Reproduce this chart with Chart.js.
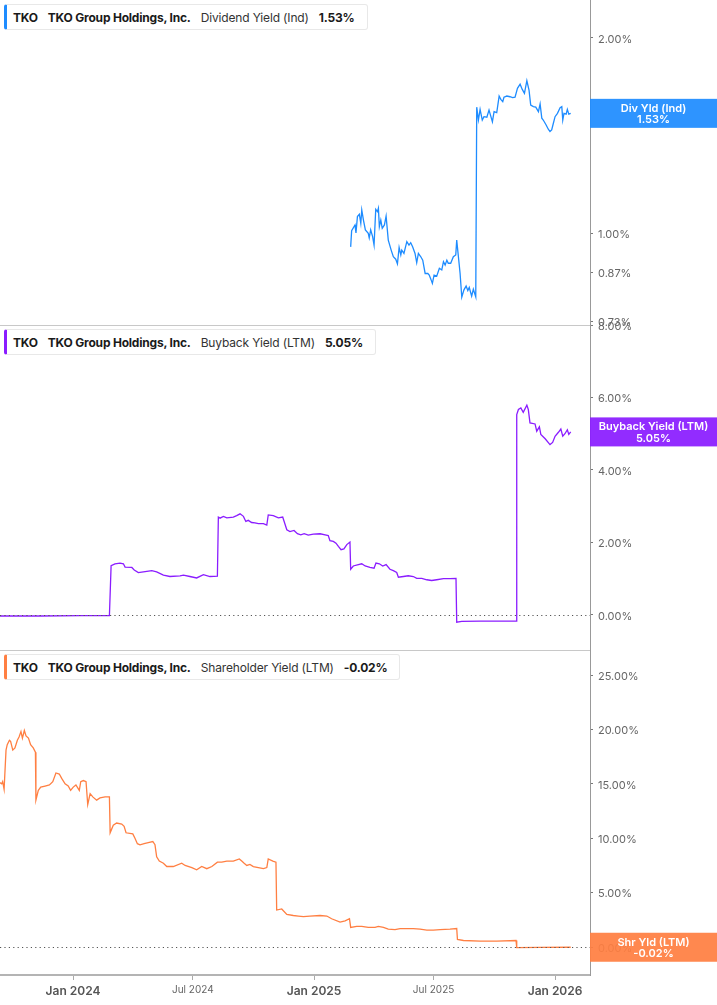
<!DOCTYPE html>
<html>
<head>
<meta charset="utf-8">
<script src="https://cdn.jsdelivr.net/npm/chart.js@4.4.1/dist/chart.umd.min.js"></script>
<style>
  html,body{margin:0;padding:0;background:#fff;}
  #wrap{position:relative;width:717px;height:1005px;overflow:hidden;font-family:Inter,"Noto Sans",sans-serif;}
  canvas{position:absolute;left:0;}
  .lg{position:absolute;left:4px;height:26px;box-sizing:border-box;background:#fff;border:1px solid #e8e8e8;border-left:3px solid #000;border-radius:3px;display:flex;align-items:center;padding:0 12px 0 6px;font-size:12px;color:#222;white-space:nowrap;z-index:5;}
  .lg span{margin-right:10px;}
  .lg span:last-child{margin-right:0;}
  .lg .b{font-weight:700;color:#1a1a1a;letter-spacing:-0.2px;}
  .lg .n{font-weight:400;color:#333;letter-spacing:-0.15px;}
</style>
</head>
<body>
<div id="wrap">
  <canvas id="c1" width="717" height="350" style="top:-15px;width:717px;height:350px"></canvas>
  <canvas id="c2" width="717" height="350" style="top:310px;width:717px;height:350px"></canvas>
  <canvas id="c3" width="717" height="370" style="top:635px;width:717px;height:370px"></canvas>
</div>
<script>
// ---------- DATA (time as decimal year) ----------
const ticker = "TKO";
const company = "TKO Group Holdings, Inc.";
const seriesNames = ["Dividend Yield (Ind)", "Buyback Yield (LTM)", "Shareholder Yield (LTM)"];
const boxNames = ["Div Yld (Ind)", "Buyback Yield (LTM)", "Shr Yld (LTM)"];
const seriesColors = ["#1E8CFF", "#8A1CFF", "#FF7F42"];

const divT = [2025.152,2025.156,2025.170,2025.174,2025.180,2025.188,2025.194,2025.198,2025.205,2025.213,
2025.225,2025.229,2025.235,2025.243,2025.249,2025.256,2025.263,2025.267,2025.271,2025.277,
2025.283,2025.292,2025.299,2025.308,2025.320,2025.329,2025.339,2025.346,2025.353,2025.360,
2025.364,2025.373,2025.385,2025.394,2025.401,2025.409,2025.419,2025.426,2025.433,2025.443,
2025.451,2025.461,2025.472,2025.478,2025.485,2025.491,2025.498,2025.509,2025.520,2025.530,
2025.537,2025.544,2025.551,2025.557,2025.567,2025.578,2025.588,2025.592,2025.599,2025.606,
2025.613,2025.622,2025.631,2025.638,2025.644,2025.654,2025.661,2025.671,2025.675,2025.682,
2025.689,2025.698,2025.705,2025.717,2025.726,2025.733,2025.740,2025.747,2025.758,2025.768,
2025.775,2025.783,2025.788,2025.800,2025.813,2025.824,2025.834,2025.844,2025.855,2025.864,
2025.873,2025.883,2025.892,2025.899,2025.910,2025.920,2025.931,2025.938,2025.945,2025.951,
2025.963,2025.972,2025.979,2025.986,2025.993,2026.000,2026.010,2026.021,2026.028,2026.032,
2026.037,2026.046,2026.051,2026.057,2026.065];
const divV = [0.952,1.008,1.029,1.000,1.060,1.069,1.035,1.085,1.047,1.011,
0.999,0.983,1.011,0.987,0.958,1.088,1.079,1.092,1.023,1.047,
1.017,1.029,1.062,0.975,0.941,0.919,0.911,0.896,0.950,0.925,
0.941,0.930,0.970,0.958,0.966,0.952,0.930,0.900,0.930,0.919,
0.908,0.866,0.866,0.861,0.848,0.836,0.861,0.858,0.882,0.877,
0.903,0.892,0.908,0.898,0.898,0.919,0.925,0.975,0.919,0.866,
0.796,0.817,0.828,0.815,0.824,0.799,0.819,0.797,1.564,1.494,
1.552,1.494,1.512,1.509,1.548,1.516,1.485,1.539,1.534,1.627,
1.608,1.595,1.620,1.627,1.623,1.618,1.620,1.672,1.697,1.666,
1.643,1.718,1.662,1.576,1.567,1.564,1.539,1.582,1.504,1.494,
1.468,1.446,1.434,1.442,1.477,1.512,1.530,1.561,1.567,1.494,
1.530,1.526,1.552,1.526,1.530];

const bbT = [2023.690,2023.863,2024.029,2024.151,2024.158,2024.174,2024.195,2024.209,2024.216,2024.244,
2024.254,2024.271,2024.292,2024.327,2024.347,2024.375,2024.402,2024.444,2024.458,2024.485,
2024.513,2024.541,2024.568,2024.599,2024.603,2024.610,2024.624,2024.638,2024.665,2024.679,
2024.693,2024.707,2024.717,2024.727,2024.741,2024.755,2024.769,2024.790,2024.804,2024.810,
2024.831,2024.852,2024.870,2024.887,2024.900,2024.917,2024.931,2024.945,2024.959,2024.976,
2024.997,2025.025,2025.046,2025.059,2025.066,2025.080,2025.091,2025.101,2025.112,2025.124,
2025.136,2025.149,2025.152,2025.163,2025.180,2025.198,2025.212,2025.232,2025.249,2025.257,
2025.271,2025.285,2025.299,2025.315,2025.329,2025.343,2025.350,2025.371,2025.391,2025.412,
2025.426,2025.447,2025.468,2025.488,2025.509,2025.537,2025.564,2025.589,2025.592,2025.613,
2025.689,2025.758,2025.838,2025.841,2025.848,2025.858,2025.868,2025.883,2025.889,2025.896,
2025.917,2025.924,2025.935,2025.941,2025.959,2025.979,2025.990,2026.000,2026.014,2026.024,
2026.032,2026.041,2026.051,2026.057,2026.065];
const bbV = [-0.03,-0.03,-0.02,-0.02,1.36,1.41,1.43,1.41,1.32,1.31,
1.24,1.17,1.19,1.22,1.19,1.10,1.06,1.08,1.10,1.06,
1.02,1.11,1.06,1.07,2.70,2.67,2.72,2.68,2.70,2.74,
2.79,2.72,2.58,2.61,2.55,2.54,2.52,2.52,2.48,2.76,
2.74,2.68,2.70,2.35,2.30,2.33,2.24,2.21,2.24,2.20,
2.23,2.24,2.21,2.19,2.05,2.03,1.98,1.89,1.80,1.82,
1.94,2.01,1.26,1.35,1.38,1.41,1.35,1.31,1.29,1.43,
1.41,1.35,1.39,1.26,1.22,1.17,1.04,1.06,1.08,1.06,
1.01,1.01,0.97,0.95,0.97,1.00,1.00,1.01,-0.20,-0.18,
-0.17,-0.17,-0.17,5.53,5.67,5.71,5.59,5.79,5.67,5.30,
5.27,5.07,5.19,4.98,4.86,4.70,4.76,4.93,5.04,5.13,
4.93,5.00,5.11,4.98,5.05];

const shT = [2023.690,2023.704,2023.708,2023.714,2023.722,2023.727,2023.736,2023.741,2023.750,2023.759,
2023.769,2023.776,2023.784,2023.790,2023.798,2023.805,2023.815,2023.824,2023.835,2023.844,
2023.846,2023.856,2023.866,2023.884,2023.902,2023.916,2023.929,2023.943,2023.953,2023.967,
2023.980,2023.990,2024.001,2024.012,2024.026,2024.032,2024.043,2024.054,2024.061,2024.071,
2024.082,2024.098,2024.112,2024.133,2024.151,2024.154,2024.167,2024.181,2024.202,2024.212,
2024.220,2024.248,2024.257,2024.267,2024.278,2024.295,2024.312,2024.331,2024.340,2024.347,
2024.358,2024.375,2024.389,2024.416,2024.451,2024.465,2024.493,2024.513,2024.534,2024.555,
2024.576,2024.599,2024.617,2024.638,2024.665,2024.690,2024.700,2024.710,2024.721,2024.734,
2024.748,2024.769,2024.790,2024.804,2024.810,2024.829,2024.842,2024.845,2024.866,2024.887,
2024.914,2024.935,2024.956,2024.983,2025.025,2025.053,2025.073,2025.108,2025.129,2025.147,
2025.152,2025.177,2025.198,2025.225,2025.253,2025.267,2025.288,2025.308,2025.336,2025.357,
2025.385,2025.412,2025.440,2025.468,2025.495,2025.523,2025.564,2025.592,2025.595,2025.620,
2025.689,2025.758,2025.838,2025.841,2025.938,2026.065];
const shV = [15.2,15.0,15.2,14.5,18.1,18.6,19.0,18.9,18.1,18.3,
19.0,19.3,19.8,19.2,19.9,19.4,19.2,18.6,18.3,17.9,
13.5,14.4,14.7,14.8,14.9,15.2,16.0,15.9,15.5,15.0,
14.8,14.4,14.7,14.9,14.4,15.2,15.3,15.2,13.1,14.1,
13.8,13.5,13.7,13.8,13.8,10.5,11.2,11.4,11.3,11.1,
10.5,10.4,10.0,9.5,9.4,9.5,9.6,9.7,9.4,8.3,
7.9,7.7,7.4,7.4,7.7,7.5,7.3,7.1,7.4,7.2,
7.4,7.8,7.8,7.9,7.9,8.1,7.9,7.7,7.5,7.6,
7.4,7.3,7.2,7.3,8.1,7.9,7.8,3.4,3.5,3.0,
2.9,2.85,2.8,2.85,2.9,2.85,2.6,2.3,2.4,2.6,
1.8,1.9,1.9,1.8,1.8,1.9,1.8,1.65,1.6,1.7,
1.7,1.7,1.65,1.55,1.55,1.6,1.65,1.7,0.7,0.6,
0.55,0.55,0.6,-0.05,-0.03,-0.02];

const xTickValues = [2024.0, 2024.497, 2025.0, 2025.496, 2026.0];
const xTickLabels = ["Jan 2024", "Jul 2024", "Jan 2025", "Jul 2025", "Jan 2026"];
const xMin = 2023.697, xMax = 2026.145;

const divTicks = [0.73, 0.87, 1.00, 2.00];
const bbTicks = [0, 2, 4, 6, 8];
const shTicks = [0, 5, 10, 15, 20, 25];

// ---------- helpers ----------
const FONT = 'Inter, "Noto Sans", sans-serif';
function pts(t, v){ return t.map((x,i)=>({x:x, y:v[i]})); }
function pct(v){ return v.toFixed(2) + '%'; }
function xLabel(v){
  const i = xTickValues.findIndex(t => Math.abs(t - v) < 0.01);
  return i >= 0 ? xTickLabels[i] : '';
}
function isJan(ctx){
  const v = ctx && ctx.tick ? ctx.tick.value : NaN;
  return xLabel(v).indexOf('Jan') === 0;
}

// legends (real HTML text)
const legendTops = [4, 329, 654];
const lastVals = [divV[divV.length-1], bbV[bbV.length-1], shV[shV.length-1]];
const wrap = document.getElementById('wrap');
seriesNames.forEach((nm, i) => {
  const d = document.createElement('div');
  d.className = 'lg';
  d.style.top = legendTops[i] + 'px';
  d.style.borderLeftColor = seriesColors[i];
  [[ticker,'b'],[company,'b'],[nm,'n'],[pct(lastVals[i]),'b']].forEach(([txt,c]) => {
    const s = document.createElement('span'); s.className = c; s.textContent = txt; d.appendChild(s);
  });
  wrap.appendChild(d);
});

const overlay = {
  id: 'overlay',
  afterDraw(chart, args, o) {
    const {ctx, chartArea: ca} = chart;
    const ys = chart.scales.y;
    ctx.save();
    if (o.zero) {
      const y0 = Math.round(ys.getPixelForValue(0)) + 0.5;
      ctx.strokeStyle = '#555'; ctx.lineWidth = 1; ctx.setLineDash([1.2, 3.2]);
      ctx.beginPath(); ctx.moveTo(ca.left, y0); ctx.lineTo(ca.right, y0); ctx.stroke();
      ctx.setLineDash([]);
    }
    if (o.sep) {
      const yb = Math.round(ca.bottom) + 0.5;
      ctx.strokeStyle = '#c8c8c8'; ctx.lineWidth = 1;
      ctx.beginPath(); ctx.moveTo(ca.left, yb); ctx.lineTo(ca.right, yb); ctx.stroke();
    }
    const py = ys.getPixelForValue(o.value);
    ctx.globalAlpha = 0.93;
    ctx.fillStyle = o.color;
    ctx.fillRect(ca.right, py - 14.5, chart.width - ca.right, 29);
    ctx.globalAlpha = 1;
    ctx.fillStyle = '#fff';
    ctx.font = '600 11px ' + FONT;
    ctx.textAlign = 'center'; ctx.textBaseline = 'middle';
    const cx = (ca.right + chart.width) / 2;
    ctx.fillText(o.label, cx, py - 5);
    ctx.fillText(pct(o.value), cx, py + 6.5);
    ctx.restore();
  }
};

function yAxis(type, min, max, ticks) {
  return {
    type: type, position: 'right', min: min, max: max, bounds: 'data',
    afterFit(s){ s.width = 127; s.paddingTop = 0; s.paddingBottom = 0; },
    afterBuildTicks(s){ s.ticks = ticks.map(v => ({value: v})); },
    grid: { display: true, drawOnChartArea: false, drawTicks: true, tickLength: 3, color: '#777', tickColor: '#777' },
    border: { display: true, color: '#999', width: 1 },
    ticks: { padding: 5, labelOffset: 1.5, color: '#666', font: {family: FONT, size: 11}, callback: v => pct(Number(v)), autoSkip: false }
  };
}
function xAxis(show) {
  return {
    type: 'linear', min: xMin, max: xMax, display: show, bounds: 'data',
    afterFit(s){ if (show) { s.height = 30; s.paddingLeft = 0; s.paddingRight = 0; } },
    afterBuildTicks(s){ s.ticks = xTickValues.map(v => ({value: v})); },
    grid: { display: true, drawOnChartArea: false, drawTicks: true, tickLength: 5, color: '#aaa', tickColor: '#aaa' },
    border: { display: true, color: '#b4b4b4', width: 2 },
    ticks: {
      autoSkip: false, maxRotation: 0, padding: 4,
      callback: v => xLabel(v),
      color: ctx => isJan(ctx) ? '#555' : '#666',
      font: ctx => isJan(ctx)
        ? {family: FONT, size: 12, weight: '600'}
        : {family: FONT, size: 10, weight: '400'}
    }
  };
}
function makeChart(id, data, color, y, showX, pad, ov) {
  return new Chart(document.getElementById(id), {
    type: 'line',
    data: { datasets: [{ data: data, borderColor: color, borderWidth: 1.3, pointRadius: 0, tension: 0, fill: false }] },
    options: {
      responsive: false, maintainAspectRatio: false, animation: false,
      layout: { padding: pad },
      plugins: { legend: {display: false}, tooltip: {enabled: false}, overlay: ov },
      scales: { x: xAxis(showX), y: y }
    },
    plugins: [overlay]
  });
}

makeChart('c1', pts(divT, divV), seriesColors[0],
  yAxis('logarithmic', 0.7211, 2.289, divTicks), false,
  {top: 15, bottom: 10, left: 0, right: 0},
  {value: lastVals[0], label: boxNames[0], color: seriesColors[0], sep: true, zero: false});

makeChart('c2', pts(bbT, bbV), seriesColors[1],
  yAxis('linear', -0.968, 8.0, bbTicks), false,
  {top: 15, bottom: 10, left: 0, right: 0},
  {value: lastVals[1], label: boxNames[1], color: seriesColors[1], sep: true, zero: true});

makeChart('c3', pts(shT, shV), seriesColors[2],
  yAxis('linear', -2.57, 27.3, shTicks), true,
  {top: 15, bottom: 0, left: 0, right: 0},
  {value: lastVals[2], label: boxNames[2], color: seriesColors[2], sep: false, zero: true});
</script>
</body>
</html>
